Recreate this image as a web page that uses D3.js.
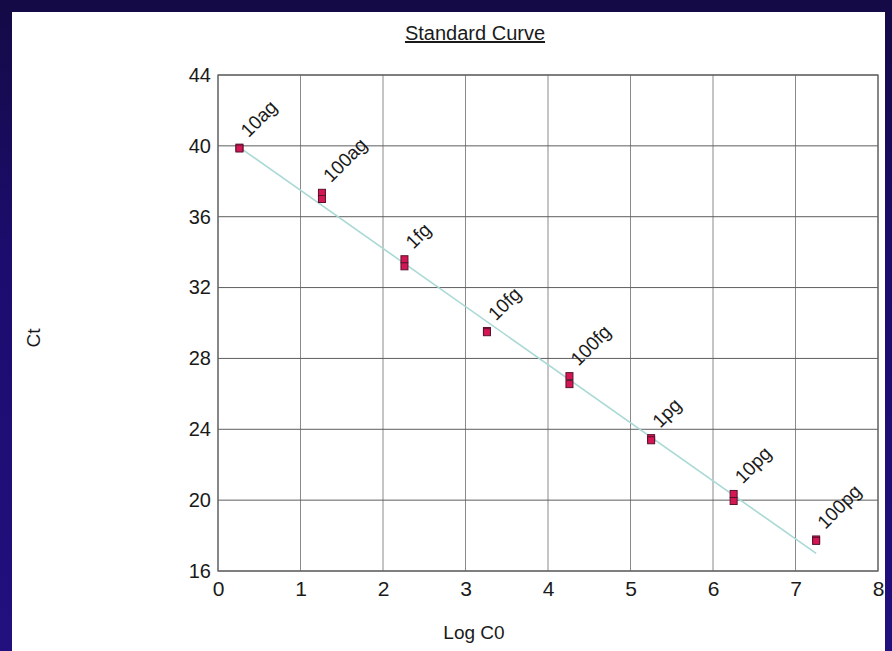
<!DOCTYPE html>
<html>
<head>
<meta charset="utf-8">
<script src="https://cdn.jsdelivr.net/npm/d3@7"></script>
<style>
  html, body { margin: 0; padding: 0; background: #1a0c66; }
  svg { display: block; }
  text { font-family: "Liberation Sans", Arial, Helvetica, sans-serif; fill: #1a1a1a; }
</style>
</head>
<body>
<svg id="chart" width="892" height="651"></svg>
<script>
// ---- data ----
const labels  = ["10ag", "100ag", "1fg", "10fg", "100fg", "1pg", "10pg", "100pg"];
const logC0   = [0.26, 1.26, 2.26, 3.26, 4.26, 5.25, 6.25, 7.25];
const ctRep1  = [39.90, 37.35, 33.60, 29.55, 27.00, 23.50, 20.35, 17.78];
const ctRep2  = [39.85, 37.00, 33.20, 29.48, 26.55, 23.38, 19.95, 17.70];
const fitSlope = -3.28;
const fitIntercept = 40.77;
const xTicks = [0, 1, 2, 3, 4, 5, 6, 7, 8];
const yTicks = [16, 20, 24, 28, 32, 36, 40, 44];

const svg = d3.select("#chart");
const W = 892, H = 651;

// background gradient
const defs = svg.append("defs");
const grad = defs.append("linearGradient").attr("id", "bg")
  .attr("x1", 0).attr("y1", 0).attr("x2", 0).attr("y2", 1);
grad.append("stop").attr("offset", "0%").attr("stop-color", "#140a45");
grad.append("stop").attr("offset", "40%").attr("stop-color", "#1c0c6e");
grad.append("stop").attr("offset", "100%").attr("stop-color", "#21107e");
svg.append("rect").attr("width", W).attr("height", H).attr("fill", "url(#bg)");

// white panel
svg.append("rect").attr("x", 12).attr("y", 12).attr("width", 873).attr("height", 639).attr("fill", "#ffffff");

const margin = { left: 218, right: 878, top: 75, bottom: 571 };
const x = d3.scaleLinear().domain([0, 8]).range([margin.left, margin.right]);
const y = d3.scaleLinear().domain([16, 44]).range([margin.bottom, margin.top]);

// grid
const g = svg.append("g");
g.selectAll("line.vx").data(xTicks).join("line")
  .attr("x1", d => x(d)).attr("x2", d => x(d))
  .attr("y1", margin.top).attr("y2", margin.bottom)
  .attr("stroke", "#8a8a8a").attr("stroke-width", 1);
g.selectAll("line.hy").data(yTicks).join("line")
  .attr("y1", d => y(d)).attr("y2", d => y(d))
  .attr("x1", margin.left).attr("x2", margin.right)
  .attr("stroke", "#5e5e5e").attr("stroke-width", 1);
// frame
g.append("rect").attr("x", margin.left).attr("y", margin.top)
  .attr("width", margin.right - margin.left).attr("height", margin.bottom - margin.top)
  .attr("fill", "none").attr("stroke", "#666666").attr("stroke-width", 1.3);

// axes (labels only, via d3 axes)
const xAxis = svg.append("g").attr("transform", `translate(0,${margin.bottom})`)
  .call(d3.axisBottom(x).tickValues(xTicks).tickSize(0).tickPadding(10).tickFormat(d3.format("d")));
xAxis.select(".domain").remove();
xAxis.selectAll("text").style("font-size", "21px").attr("fill", "#1a1a1a")
  .style("font-family", "'Liberation Sans', Arial, sans-serif");

const yAxis = svg.append("g").attr("transform", `translate(${margin.left},0)`)
  .call(d3.axisLeft(y).tickValues(yTicks).tickSize(0).tickPadding(7).tickFormat(d3.format("d")));
yAxis.select(".domain").remove();
yAxis.selectAll("text").style("font-size", "20px").attr("fill", "#1a1a1a")
  .style("font-family", "'Liberation Sans', Arial, sans-serif");

// trend line
const x0 = logC0[0], x1 = logC0[logC0.length - 1];
svg.append("line")
  .attr("x1", x(x0)).attr("y1", y(fitIntercept + fitSlope * x0))
  .attr("x2", x(x1)).attr("y2", y(fitIntercept + fitSlope * x1))
  .attr("stroke", "#a9d9d6").attr("stroke-width", 1.6);

// points
const pts = [];
logC0.forEach((lx, i) => { pts.push({ x: lx, ct: ctRep1[i] }); pts.push({ x: lx, ct: ctRep2[i] }); });
const ms = 7;
svg.append("g").selectAll("rect").data(pts).join("rect")
  .attr("x", d => x(d.x) - ms / 2).attr("y", d => y(d.ct) - ms / 2)
  .attr("width", ms).attr("height", ms)
  .attr("fill", "#d41752").attr("stroke", "#5a1030").attr("stroke-width", 1);

// point labels
svg.append("g").selectAll("text").data(labels).join("text")
  .attr("transform", (d, i) => {
    const top = y(Math.max(ctRep1[i], ctRep2[i])) - ms / 2;
    return `translate(${x(logC0[i]) + 9},${top - 6}) rotate(-45)`;
  })
  .style("font-size", "19px")
  .text(d => d);

// title
svg.append("text").attr("x", 475).attr("y", 40).attr("text-anchor", "middle")
  .style("font-size", "20px").style("text-decoration", "underline")
  .text("Standard Curve");

// axis titles
svg.append("text").attr("x", 474).attr("y", 639).attr("text-anchor", "middle")
  .style("font-size", "19px").text("Log C0");
svg.append("text").attr("transform", "translate(40,338) rotate(-90)").attr("text-anchor", "middle")
  .style("font-size", "19px").text("Ct");
</script>
</body>
</html>
